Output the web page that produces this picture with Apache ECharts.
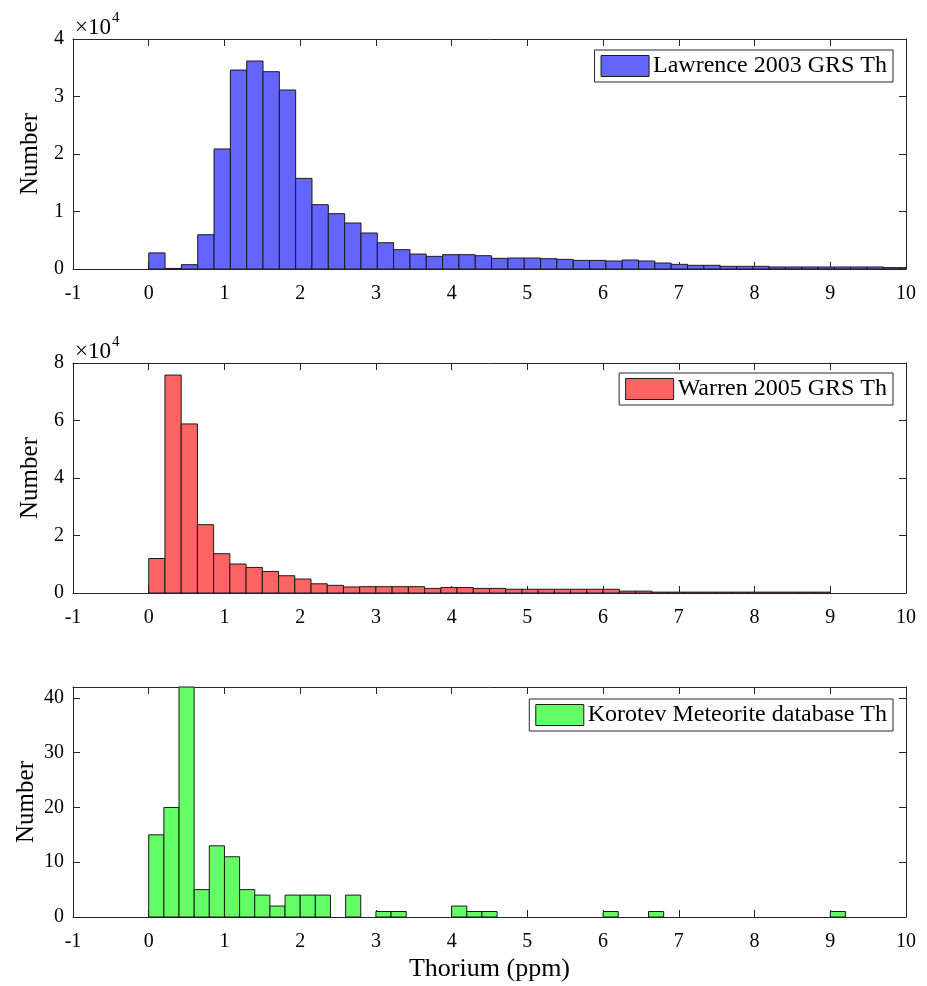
<!DOCTYPE html>
<html>
<head>
<meta charset="utf-8">
<script src="https://cdn.jsdelivr.net/npm/echarts@6/dist/echarts.min.js"></script>
<style>html,body{margin:0;padding:0;background:#fff}#c{width:927px;height:986px}</style>
</head>
<body>
<div id="c"></div>
<script>
// ---- data ----
const xTicks = [-1, 0, 1, 2, 3, 4, 5, 6, 7, 8, 9, 10];
const seriesNames = ['Lawrence 2003 GRS Th', 'Warren 2005 GRS Th', 'Korotev Meteorite database Th'];

const lawrenceBinStart = 0;
const lawrenceBinWidth = 0.2156;
const lawrenceCounts = [2800, 100, 750, 5960, 20870, 34600, 36170, 34310, 31130, 15760,
  11180, 9620, 8000, 6260, 4570, 3360, 2600, 2200, 2490, 2490,
  2310, 1850, 1910, 1910, 1790, 1680, 1500, 1500, 1390, 1560,
  1390, 1040, 810, 640, 640, 460, 460, 460, 350, 350,
  350, 350, 350, 350, 350, 240, 240];

const warrenBinStart = 0;
const warrenBinWidth = 9 / 42;
const warrenCounts = [12000, 75800, 58800, 23760, 13670, 10080, 8900, 7500, 6000, 4860,
  3200, 2660, 2100, 2200, 2200, 2200, 2200, 1600, 1900, 1900,
  1600, 1600, 1300, 1300, 1300, 1300, 1300, 1300, 1300, 650,
  650, 300, 300, 300, 300, 300, 300, 300, 300, 300,
  300, 300];

const korotevBinStart = 0;
const korotevBinWidth = 0.2;
const korotevCounts = [15, 20, 42, 5, 13, 11, 5, 4, 2, 4,
  4, 4, 0, 4, 0, 1, 1, 0, 0, 0,
  2, 1, 1, 0, 0, 0, 0, 0, 0, 0,
  1, 0, 0, 1, 0, 0, 0, 0, 0, 0,
  0, 0, 0, 0, 0, 1];

const yTicks1 = [0, 10000, 20000, 30000, 40000];
const yTicks2 = [0, 20000, 40000, 60000, 80000];
const yTicks3 = [0, 10, 20, 30, 40];
const yMax3 = 42;

// ---- helpers ----
function toBins(start, width, counts) {
  return counts.map((c, i) => [start + i * width, start + (i + 1) * width, c]);
}
const FONT = 'Liberation Serif';
const AXC = '#262626';
const colors = ['#6464FF', '#FF6464', '#64FF64'];

const gridTops = [39, 363, 687];
const gridH = 230;
const grids = gridTops.map(t => ({ left: 73, right: 21, top: t, height: gridH }));

function renderItem(params, api) {
  const x0 = api.value(0), x1 = api.value(1), y = api.value(2);
  if (!y) return null;
  const p0 = api.coord([x0, y]);
  const p1 = api.coord([x1, 0]);
  const cs = params.coordSys;
  const r = echarts.graphic.clipRectByRect(
    { x: p0[0], y: p0[1], width: p1[0] - p0[0], height: p1[1] - p0[1] },
    { x: cs.x, y: cs.y, width: cs.width, height: cs.height + 1 });
  if (!r) return null;
  return { type: 'rect', shape: r, style: { fill: api.visual('color'), stroke: '#1a1a1a', lineWidth: 1 } };
}

const xAxes = [], yAxes = [];
const yCfg = [
  { max: yTicks1[yTicks1.length - 1], interval: 10000, fmt: v => String(v / 10000), gap: 30 },
  { max: yTicks2[yTicks2.length - 1], interval: 20000, fmt: v => String(v / 10000), gap: 30 },
  { max: yMax3, interval: 10, fmt: v => (yTicks3.indexOf(v) >= 0 ? String(v) : ''), gap: 34 }
];
for (let g = 0; g < 3; g++) {
  const axisLine = { show: true, onZero: false, lineStyle: { color: AXC, width: 1 } };
  const tick = { show: true, inside: true, length: 7, lineStyle: { color: AXC, width: 1 } };
  xAxes.push({
    type: 'value', gridIndex: g, position: 'bottom', min: xTicks[0], max: xTicks[xTicks.length - 1], interval: 1,
    axisLine, axisTick: tick, splitLine: { show: false },
    axisLabel: { color: '#000', fontFamily: FONT, fontSize: 20, margin: 15, formatter: v => String(v) },
    name: g === 2 ? 'Thorium (ppm)' : '', nameLocation: 'middle', nameGap: 39, nameMoveOverlap: false,
    nameTextStyle: { color: '#000', fontFamily: FONT, fontSize: 26 }
  });
  xAxes.push({
    type: 'value', gridIndex: g, position: 'top', min: xTicks[0], max: xTicks[xTicks.length - 1], interval: 1,
    axisLine, axisTick: tick, axisLabel: { show: false }, splitLine: { show: false }
  });
  yAxes.push({
    type: 'value', gridIndex: g, position: 'left', min: 0, max: yCfg[g].max, interval: yCfg[g].interval,
    axisLine, axisTick: tick, splitLine: { show: false },
    axisLabel: { color: '#000', fontFamily: FONT, fontSize: 20, margin: 9, formatter: yCfg[g].fmt, showMaxLabel: true, showMinLabel: true },
    name: 'Number', nameLocation: 'middle', nameGap: yCfg[g].gap, nameMoveOverlap: false,
    nameTextStyle: { color: '#000', fontFamily: FONT, fontSize: 25 }
  });
  yAxes.push({
    type: 'value', gridIndex: g, position: 'right', min: 0, max: yCfg[g].max, interval: yCfg[g].interval,
    axisLine, axisTick: tick, axisLabel: { show: false }, splitLine: { show: false }
  });
}

const binsAll = [
  toBins(lawrenceBinStart, lawrenceBinWidth, lawrenceCounts),
  toBins(warrenBinStart, warrenBinWidth, warrenCounts),
  toBins(korotevBinStart, korotevBinWidth, korotevCounts)
];

const series = binsAll.map((d, g) => ({
  type: 'custom', name: seriesNames[g], xAxisIndex: 2 * g, yAxisIndex: 2 * g,
  renderItem, data: d, encode: { x: [0, 1], y: 2 },
  itemStyle: { color: colors[g], borderColor: '#1a1a1a', borderWidth: 1 },
  silent: true, animation: false
}));

const legendTops = [50, 373, 699];
const legends = seriesNames.map((n, g) => ({
  data: [{ name: n, icon: 'rect', itemStyle: { color: colors[g], borderColor: '#1a1a1a', borderWidth: 1 } }],
  right: 34, top: legendTops[g], orient: 'horizontal',
  itemWidth: 48, itemHeight: 21,
  padding: [4, 6, 4, 6],
  backgroundColor: '#fff', borderColor: AXC, borderWidth: 1,
  selectedMode: false,
  textStyle: { color: '#000', fontFamily: FONT, fontSize: 24, padding: [0, 0, 0, -1] }
}));

const graphics = [];
[gridTops[0], gridTops[1]].forEach(t => {
  graphics.push({ type: 'text', left: 75, top: t - 23, style: { text: '×10', font: '23px "Liberation Serif"', fill: '#000' } });
  graphics.push({ type: 'text', left: 112, top: t - 28, style: { text: '4', font: '15px "Liberation Serif"', fill: '#000' } });
});

const chart = echarts.init(document.getElementById('c'), null, { renderer: 'canvas' });
chart.setOption({
  animation: false,
  backgroundColor: '#fff',
  grid: grids,
  xAxis: xAxes,
  yAxis: yAxes,
  legend: legends,
  series,
  graphic: graphics
});
</script>
</body>
</html>
